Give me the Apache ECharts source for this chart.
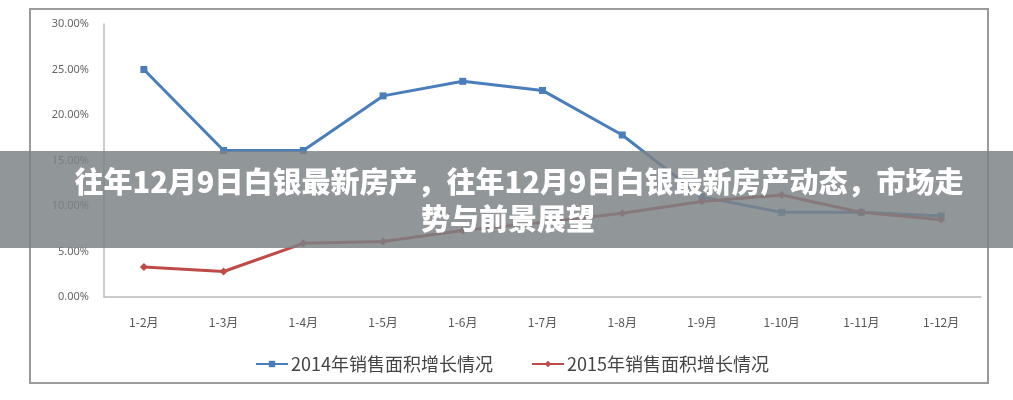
<!DOCTYPE html>
<html>
<head>
<meta charset="utf-8">
<script src="https://cdn.jsdelivr.net/npm/echarts@6/dist/echarts.min.js"></script>
<style>
html,body{margin:0;padding:0;background:#fff;}
#chart{width:1013px;height:400px;}
</style>
</head>
<body>
<div id="chart"></div>
<script>
const categories = ['1-2月','1-3月','1-4月','1-5月','1-6月','1-7月','1-8月','1-9月','1-10月','1-11月','1-12月'];
const series2014 = [25.0, 16.1, 16.1, 22.1, 23.7, 22.7, 17.8, 11.0, 9.3, 9.3, 8.9];
const series2015 = [3.3, 2.8, 5.9, 6.1, 7.3, 8.2, 9.2, 10.5, 11.2, 9.3, 8.5];
const name2014 = '2014年销售面积增长情况';
const name2015 = '2015年销售面积增长情况';
const titleLine1 = '往年12月9日白银最新房产，往年12月9日白银最新房产动态，市场走';
const titleLine2 = '势与前景展望';

const chart = echarts.init(document.getElementById('chart'));
chart.setOption({
  backgroundColor: '#fff',
  animation: false,
  grid: { left: 104, right: 32, top: 24, bottom: 103, containLabel: false },
  legend: {
    bottom: 22,
    left: 250,
    itemWidth: 32,
    itemHeight: 8,
    itemGap: 38,
    textStyle: { fontSize: 18, color: '#444', fontFamily: 'Noto Sans CJK SC', padding: [0, 0, 0, -2] },
    data: [name2014, name2015]
  },
  xAxis: {
    type: 'category',
    data: categories,
    boundaryGap: true,
    axisLine: { lineStyle: { color: '#bbbbbb', width: 1.5 } },
    axisTick: { show: false },
    axisLabel: { color: '#555', fontSize: 12, margin: 19, fontFamily: 'Noto Sans CJK SC' }
  },
  yAxis: {
    type: 'value',
    min: 0, max: 30, interval: 5,
    axisLine: { show: true, lineStyle: { color: '#bbbbbb', width: 1.5 } },
    axisTick: { show: false },
    splitLine: { show: false },
    axisLabel: { color: '#666', fontSize: 11, margin: 15, fontFamily: 'Noto Sans',
      formatter: v => v.toFixed(2) + '%' }
  },
  series: [
    { name: name2014, type: 'line', data: series2014, symbol: 'rect', symbolSize: 7,
      color: '#4a7ebb', lineStyle: { width: 3, color: '#4a7ebb' }, itemStyle: { color: '#4a7ebb' } },
    { name: name2015, type: 'line', data: series2015, symbol: 'diamond', symbolSize: 8,
      color: '#be4b48', lineStyle: { width: 3, color: '#be4b48' }, itemStyle: { color: '#be4b48' } }
  ],
  graphic: [
    { type: 'rect', z: 50, shape: { x: 30, y: 9, width: 958, height: 374 },
      style: { fill: 'none', stroke: '#9a9a9a', lineWidth: 2 } },
    { type: 'rect', z: 100, shape: { x: 0, y: 151, width: 1013, height: 97 },
      style: { fill: 'rgba(124,130,134,0.84)' } },
    { type: 'text', z: 101, x: 519, y: 182,
      style: { text: titleLine1, fill: '#fff', font: '900 29px "Noto Sans CJK SC"',
        textAlign: 'center', textVerticalAlign: 'middle', align: 'center', verticalAlign: 'middle' } },
    { type: 'text', z: 101, x: 508, y: 219,
      style: { text: titleLine2, fill: '#fff', font: '900 29px "Noto Sans CJK SC"',
        textAlign: 'center', textVerticalAlign: 'middle', align: 'center', verticalAlign: 'middle' } }
  ]
});
</script>
</body>
</html>
